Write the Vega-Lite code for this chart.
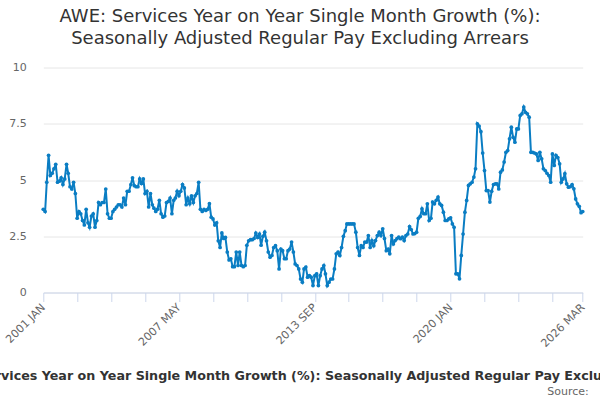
{
  "$schema": "https://vega.github.io/schema/vega-lite/v6.json",
  "autosize": {"type": "none"},
  "width": 539.4,
  "height": 225,
  "padding": {"left": 43.3, "top": 67.5, "right": 17.3, "bottom": 107.5},
  "background": "white",
  "config": {
    "font": "DejaVu Sans",
    "view": {"stroke": null}
  },
  "title": {
    "text": ["AWE: Services Year on Year Single Month Growth (%):", "Seasonally Adjusted Regular Pay Excluding Arrears"],
    "font": "DejaVu Sans",
    "fontSize": 18,
    "fontWeight": "normal",
    "color": "#333333",
    "lineHeight": 22,
    "anchor": "middle",
    "dx": -13,
    "offset": 14
  },
  "data": {
    "values": [
      {"date": "2001-01-01", "v": 3.7}, {"date": "2001-02-01", "v": 3.6}, {"date": "2001-03-01", "v": 4.9}, {"date": "2001-04-01", "v": 6.1},
      {"date": "2001-05-01", "v": 5.2}, {"date": "2001-06-01", "v": 5.3}, {"date": "2001-07-01", "v": 5.5}, {"date": "2001-08-01", "v": 5.7},
      {"date": "2001-09-01", "v": 4.9}, {"date": "2001-10-01", "v": 4.95}, {"date": "2001-11-01", "v": 5.1}, {"date": "2001-12-01", "v": 4.8},
      {"date": "2002-01-01", "v": 5.05}, {"date": "2002-02-01", "v": 5.7}, {"date": "2002-03-01", "v": 5.3}, {"date": "2002-04-01", "v": 4.7},
      {"date": "2002-05-01", "v": 4.6}, {"date": "2002-06-01", "v": 4.9}, {"date": "2002-07-01", "v": 4.4}, {"date": "2002-08-01", "v": 3.3},
      {"date": "2002-09-01", "v": 3.6}, {"date": "2002-10-01", "v": 3.5}, {"date": "2002-11-01", "v": 3.2}, {"date": "2002-12-01", "v": 3.0},
      {"date": "2003-01-01", "v": 3.7}, {"date": "2003-02-01", "v": 3.1}, {"date": "2003-03-01", "v": 2.9}, {"date": "2003-04-01", "v": 3.4},
      {"date": "2003-05-01", "v": 3.5}, {"date": "2003-06-01", "v": 2.9}, {"date": "2003-07-01", "v": 3.2}, {"date": "2003-08-01", "v": 4.0},
      {"date": "2003-09-01", "v": 3.9}, {"date": "2003-10-01", "v": 4.0}, {"date": "2003-11-01", "v": 4.0}, {"date": "2003-12-01", "v": 4.6},
      {"date": "2004-01-01", "v": 3.5}, {"date": "2004-02-01", "v": 3.3}, {"date": "2004-03-01", "v": 3.3}, {"date": "2004-04-01", "v": 3.6},
      {"date": "2004-05-01", "v": 3.7}, {"date": "2004-06-01", "v": 3.8}, {"date": "2004-07-01", "v": 3.9}, {"date": "2004-08-01", "v": 3.9},
      {"date": "2004-09-01", "v": 3.8}, {"date": "2004-10-01", "v": 4.2}, {"date": "2004-11-01", "v": 3.9}, {"date": "2004-12-01", "v": 4.5},
      {"date": "2005-01-01", "v": 4.5}, {"date": "2005-02-01", "v": 4.8}, {"date": "2005-03-01", "v": 5.1}, {"date": "2005-04-01", "v": 4.75},
      {"date": "2005-05-01", "v": 4.7}, {"date": "2005-06-01", "v": 4.7}, {"date": "2005-07-01", "v": 5.05}, {"date": "2005-08-01", "v": 4.85},
      {"date": "2005-09-01", "v": 5.05}, {"date": "2005-10-01", "v": 4.4}, {"date": "2005-11-01", "v": 4.5}, {"date": "2005-12-01", "v": 3.8},
      {"date": "2006-01-01", "v": 4.4}, {"date": "2006-02-01", "v": 3.9}, {"date": "2006-03-01", "v": 3.75}, {"date": "2006-04-01", "v": 3.6},
      {"date": "2006-05-01", "v": 3.7}, {"date": "2006-06-01", "v": 4.1}, {"date": "2006-07-01", "v": 3.5}, {"date": "2006-08-01", "v": 3.35},
      {"date": "2006-09-01", "v": 3.4}, {"date": "2006-10-01", "v": 4.0}, {"date": "2006-11-01", "v": 4.05}, {"date": "2006-12-01", "v": 4.2},
      {"date": "2007-01-01", "v": 3.5}, {"date": "2007-02-01", "v": 4.1}, {"date": "2007-03-01", "v": 4.2}, {"date": "2007-04-01", "v": 4.5},
      {"date": "2007-05-01", "v": 4.3}, {"date": "2007-06-01", "v": 4.5}, {"date": "2007-07-01", "v": 4.8}, {"date": "2007-08-01", "v": 4.65},
      {"date": "2007-09-01", "v": 3.9}, {"date": "2007-10-01", "v": 4.2}, {"date": "2007-11-01", "v": 3.95}, {"date": "2007-12-01", "v": 4.3},
      {"date": "2008-01-01", "v": 4.0}, {"date": "2008-02-01", "v": 4.3}, {"date": "2008-03-01", "v": 4.4}, {"date": "2008-04-01", "v": 4.9},
      {"date": "2008-05-01", "v": 3.7}, {"date": "2008-06-01", "v": 3.6}, {"date": "2008-07-01", "v": 3.7}, {"date": "2008-08-01", "v": 3.65},
      {"date": "2008-09-01", "v": 3.7}, {"date": "2008-10-01", "v": 3.95}, {"date": "2008-11-01", "v": 3.35}, {"date": "2008-12-01", "v": 3.27},
      {"date": "2009-01-01", "v": 3.0}, {"date": "2009-02-01", "v": 3.1}, {"date": "2009-03-01", "v": 2.3}, {"date": "2009-04-01", "v": 2.0},
      {"date": "2009-05-01", "v": 2.65}, {"date": "2009-06-01", "v": 2.4}, {"date": "2009-07-01", "v": 2.45}, {"date": "2009-08-01", "v": 1.8},
      {"date": "2009-09-01", "v": 1.45}, {"date": "2009-10-01", "v": 1.5}, {"date": "2009-11-01", "v": 1.15}, {"date": "2009-12-01", "v": 1.15},
      {"date": "2010-01-01", "v": 1.8}, {"date": "2010-02-01", "v": 1.2}, {"date": "2010-03-01", "v": 1.8}, {"date": "2010-04-01", "v": 1.2},
      {"date": "2010-05-01", "v": 1.15}, {"date": "2010-06-01", "v": 1.2}, {"date": "2010-07-01", "v": 2.1}, {"date": "2010-08-01", "v": 2.3},
      {"date": "2010-09-01", "v": 2.35}, {"date": "2010-10-01", "v": 2.35}, {"date": "2010-11-01", "v": 2.4}, {"date": "2010-12-01", "v": 2.64},
      {"date": "2011-01-01", "v": 2.45}, {"date": "2011-02-01", "v": 2.6}, {"date": "2011-03-01", "v": 2.1}, {"date": "2011-04-01", "v": 2.5},
      {"date": "2011-05-01", "v": 2.68}, {"date": "2011-06-01", "v": 2.3}, {"date": "2011-07-01", "v": 1.8}, {"date": "2011-08-01", "v": 1.57},
      {"date": "2011-09-01", "v": 1.65}, {"date": "2011-10-01", "v": 2.0}, {"date": "2011-11-01", "v": 2.08}, {"date": "2011-12-01", "v": 1.86},
      {"date": "2012-01-01", "v": 1.05}, {"date": "2012-02-01", "v": 1.93}, {"date": "2012-03-01", "v": 1.86}, {"date": "2012-04-01", "v": 1.5},
      {"date": "2012-05-01", "v": 1.5}, {"date": "2012-06-01", "v": 1.86}, {"date": "2012-07-01", "v": 1.93}, {"date": "2012-08-01", "v": 2.24},
      {"date": "2012-09-01", "v": 1.8}, {"date": "2012-10-01", "v": 1.27}, {"date": "2012-11-01", "v": 1.2}, {"date": "2012-12-01", "v": 1.05},
      {"date": "2013-01-01", "v": 0.6}, {"date": "2013-02-01", "v": 0.46}, {"date": "2013-03-01", "v": 1.05}, {"date": "2013-04-01", "v": 1.13},
      {"date": "2013-05-01", "v": 0.68}, {"date": "2013-06-01", "v": 0.75}, {"date": "2013-07-01", "v": 0.68}, {"date": "2013-08-01", "v": 0.31},
      {"date": "2013-09-01", "v": 0.75}, {"date": "2013-10-01", "v": 0.83}, {"date": "2013-11-01", "v": 0.31}, {"date": "2013-12-01", "v": 0.75},
      {"date": "2014-01-01", "v": 1.05}, {"date": "2014-02-01", "v": 1.2}, {"date": "2014-03-01", "v": 0.83}, {"date": "2014-04-01", "v": 0.31},
      {"date": "2014-05-01", "v": 0.46}, {"date": "2014-06-01", "v": 0.6}, {"date": "2014-07-01", "v": 0.6}, {"date": "2014-08-01", "v": 1.05},
      {"date": "2014-09-01", "v": 1.72}, {"date": "2014-10-01", "v": 1.8}, {"date": "2014-11-01", "v": 1.65}, {"date": "2014-12-01", "v": 2.0},
      {"date": "2015-01-01", "v": 2.5}, {"date": "2015-02-01", "v": 2.75}, {"date": "2015-03-01", "v": 3.05}, {"date": "2015-04-01", "v": 3.05},
      {"date": "2015-05-01", "v": 3.05}, {"date": "2015-06-01", "v": 3.05}, {"date": "2015-07-01", "v": 3.05}, {"date": "2015-08-01", "v": 2.68},
      {"date": "2015-09-01", "v": 2.0}, {"date": "2015-10-01", "v": 1.65}, {"date": "2015-11-01", "v": 2.08}, {"date": "2015-12-01", "v": 2.0},
      {"date": "2016-01-01", "v": 2.24}, {"date": "2016-02-01", "v": 2.24}, {"date": "2016-03-01", "v": 2.53}, {"date": "2016-04-01", "v": 2.0},
      {"date": "2016-05-01", "v": 2.31}, {"date": "2016-06-01", "v": 2.08}, {"date": "2016-07-01", "v": 2.31}, {"date": "2016-08-01", "v": 2.53},
      {"date": "2016-09-01", "v": 2.68}, {"date": "2016-10-01", "v": 2.53}, {"date": "2016-11-01", "v": 2.83}, {"date": "2016-12-01", "v": 2.4},
      {"date": "2017-01-01", "v": 1.86}, {"date": "2017-02-01", "v": 1.93}, {"date": "2017-03-01", "v": 1.72}, {"date": "2017-04-01", "v": 2.53},
      {"date": "2017-05-01", "v": 2.16}, {"date": "2017-06-01", "v": 2.31}, {"date": "2017-07-01", "v": 2.39}, {"date": "2017-08-01", "v": 2.46},
      {"date": "2017-09-01", "v": 2.39}, {"date": "2017-10-01", "v": 2.46}, {"date": "2017-11-01", "v": 2.31}, {"date": "2017-12-01", "v": 2.53},
      {"date": "2018-01-01", "v": 2.6}, {"date": "2018-02-01", "v": 2.93}, {"date": "2018-03-01", "v": 2.8}, {"date": "2018-04-01", "v": 2.6},
      {"date": "2018-05-01", "v": 2.62}, {"date": "2018-06-01", "v": 2.68}, {"date": "2018-07-01", "v": 3.3}, {"date": "2018-08-01", "v": 3.38},
      {"date": "2018-09-01", "v": 3.72}, {"date": "2018-10-01", "v": 3.5}, {"date": "2018-11-01", "v": 3.5}, {"date": "2018-12-01", "v": 3.94},
      {"date": "2019-01-01", "v": 3.2}, {"date": "2019-02-01", "v": 3.3}, {"date": "2019-03-01", "v": 4.02}, {"date": "2019-04-01", "v": 3.94},
      {"date": "2019-05-01", "v": 4.1}, {"date": "2019-06-01", "v": 4.24}, {"date": "2019-07-01", "v": 3.94}, {"date": "2019-08-01", "v": 3.87},
      {"date": "2019-09-01", "v": 3.57}, {"date": "2019-10-01", "v": 3.2}, {"date": "2019-11-01", "v": 3.2}, {"date": "2019-12-01", "v": 3.27},
      {"date": "2020-01-01", "v": 3.32}, {"date": "2020-02-01", "v": 3.05}, {"date": "2020-03-01", "v": 2.9}, {"date": "2020-04-01", "v": 0.83},
      {"date": "2020-05-01", "v": 0.83}, {"date": "2020-06-01", "v": 0.61}, {"date": "2020-07-01", "v": 1.65}, {"date": "2020-08-01", "v": 2.6},
      {"date": "2020-09-01", "v": 3.57}, {"date": "2020-10-01", "v": 4.09}, {"date": "2020-11-01", "v": 4.76}, {"date": "2020-12-01", "v": 4.83},
      {"date": "2021-01-01", "v": 4.9}, {"date": "2021-02-01", "v": 5.13}, {"date": "2021-03-01", "v": 5.5}, {"date": "2021-04-01", "v": 7.5},
      {"date": "2021-05-01", "v": 7.4}, {"date": "2021-06-01", "v": 7.15}, {"date": "2021-07-01", "v": 6.2}, {"date": "2021-08-01", "v": 5.42},
      {"date": "2021-09-01", "v": 4.53}, {"date": "2021-10-01", "v": 4.53}, {"date": "2021-11-01", "v": 4.02}, {"date": "2021-12-01", "v": 4.5},
      {"date": "2022-01-01", "v": 4.8}, {"date": "2022-02-01", "v": 4.83}, {"date": "2022-03-01", "v": 4.83}, {"date": "2022-04-01", "v": 4.6},
      {"date": "2022-05-01", "v": 5.35}, {"date": "2022-06-01", "v": 5.45}, {"date": "2022-07-01", "v": 5.8}, {"date": "2022-08-01", "v": 6.23},
      {"date": "2022-09-01", "v": 6.31}, {"date": "2022-10-01", "v": 6.83}, {"date": "2022-11-01", "v": 7.35}, {"date": "2022-12-01", "v": 6.9},
      {"date": "2023-01-01", "v": 6.68}, {"date": "2023-02-01", "v": 7.27}, {"date": "2023-03-01", "v": 7.27}, {"date": "2023-04-01", "v": 7.87},
      {"date": "2023-05-01", "v": 7.94}, {"date": "2023-06-01", "v": 8.24}, {"date": "2023-07-01", "v": 8.01}, {"date": "2023-08-01", "v": 7.94},
      {"date": "2023-09-01", "v": 7.79}, {"date": "2023-10-01", "v": 6.23}, {"date": "2023-11-01", "v": 6.23}, {"date": "2023-12-01", "v": 6.2},
      {"date": "2024-01-01", "v": 6.16}, {"date": "2024-02-01", "v": 5.87}, {"date": "2024-03-01", "v": 6.23}, {"date": "2024-04-01", "v": 5.94},
      {"date": "2024-05-01", "v": 5.5}, {"date": "2024-06-01", "v": 5.42}, {"date": "2024-07-01", "v": 5.3}, {"date": "2024-08-01", "v": 5.2},
      {"date": "2024-09-01", "v": 4.9}, {"date": "2024-10-01", "v": 6.16}, {"date": "2024-11-01", "v": 5.65}, {"date": "2024-12-01", "v": 6.1},
      {"date": "2025-01-01", "v": 6.0}, {"date": "2025-02-01", "v": 5.72}, {"date": "2025-03-01", "v": 4.9}, {"date": "2025-04-01", "v": 5.05},
      {"date": "2025-05-01", "v": 5.28}, {"date": "2025-06-01", "v": 4.83}, {"date": "2025-07-01", "v": 4.68}, {"date": "2025-08-01", "v": 4.7},
      {"date": "2025-09-01", "v": 4.8}, {"date": "2025-10-01", "v": 4.61}, {"date": "2025-11-01", "v": 4.16}, {"date": "2025-12-01", "v": 3.94},
      {"date": "2026-01-01", "v": 3.83}, {"date": "2026-02-01", "v": 3.55}, {"date": "2026-03-01", "v": 3.6}
    ]
  },
  "layer": [
    {
      "mark": {
        "type": "line",
        "color": "#0a7dc3",
        "strokeWidth": 2,
        "point": {"filled": true, "size": 14, "color": "#0a7dc3"}
      },
      "encoding": {
        "x": {
          "field": "date",
          "type": "temporal",
          "scale": {
            "type": "utc",
            "domain": [{"year": 2001, "month": 1, "date": 1, "utc": true}, {"year": 2026, "month": 3, "date": 1, "utc": true}]
          },
          "axis": {
            "orient": "bottom",
            "values": [
              {"year": 2001, "month": 1, "date": 1, "utc": true}, {"year": 2002, "month": 8, "date": 1, "utc": true},
              {"year": 2004, "month": 3, "date": 1, "utc": true}, {"year": 2005, "month": 10, "date": 1, "utc": true},
              {"year": 2007, "month": 5, "date": 1, "utc": true}, {"year": 2008, "month": 12, "date": 1, "utc": true},
              {"year": 2010, "month": 7, "date": 1, "utc": true}, {"year": 2012, "month": 2, "date": 1, "utc": true},
              {"year": 2013, "month": 9, "date": 1, "utc": true}, {"year": 2015, "month": 4, "date": 1, "utc": true},
              {"year": 2016, "month": 11, "date": 1, "utc": true}, {"year": 2018, "month": 6, "date": 1, "utc": true},
              {"year": 2020, "month": 1, "date": 1, "utc": true}, {"year": 2021, "month": 8, "date": 1, "utc": true},
              {"year": 2023, "month": 3, "date": 1, "utc": true}, {"year": 2024, "month": 10, "date": 1, "utc": true},
              {"year": 2026, "month": 3, "date": 1, "utc": true}
            ],
            "labelExpr": "indexof(['2001 Jan','2007 May','2013 Sep','2020 Jan','2026 Mar'], utcFormat(datum.value, '%Y %b')) >= 0 ? upper(utcFormat(datum.value, '%Y %b')) : ''",
            "labelAngle": -45,
            "labelAlign": "right",
            "labelBaseline": "middle",
            "labelFontSize": 11,
            "labelColor": "#666666",
            "labelPadding": 4,
            "labelOverlap": false,
            "labelBound": false,
            "labelFlush": false,
            "grid": false,
            "domainColor": "#ccd6eb",
            "tickColor": "#ccd6eb",
            "tickSize": 9,
            "title": "AWE: Services Year on Year Single Month Growth (%): Seasonally Adjusted Regular Pay Excluding Arrears",
            "titleFontSize": 12.7,
            "titleFontWeight": "bold",
            "titleColor": "#333333",
            "titleBaseline": "alphabetic",
            "titleY": 87,
            "titleLimit": 2000
          }
        },
        "y": {
          "field": "v",
          "type": "quantitative",
          "scale": {"domain": [0, 10]},
          "axis": {
            "values": [0, 2.5, 5, 7.5, 10],
            "labelExpr": "'' + datum.value",
            "title": null,
            "domain": false,
            "ticks": false,
            "grid": true,
            "gridColor": "#e6e6e6",
            "labelFontSize": 11,
            "labelColor": "#666666",
            "labelPadding": 17
          }
        }
      }
    },
    {
      "mark": {"type": "point", "opacity": 0},
      "encoding": {
        "x": {
          "field": "date",
          "type": "temporal",
          "axis": {
            "orient": "bottom",
            "labels": false,
            "ticks": false,
            "domain": false,
            "grid": false,
            "title": "Source:",
            "titleFontSize": 11,
            "titleFontWeight": "normal",
            "titleColor": "#666666",
            "titleAlign": "right",
            "titleAnchor": "end",
            "titleBaseline": "alphabetic",
            "titleX": 545,
            "titleY": 102
          }
        },
        "y": {"field": "v", "type": "quantitative"}
      }
    }
  ],
  "resolve": {"axis": {"x": "independent"}}
}
